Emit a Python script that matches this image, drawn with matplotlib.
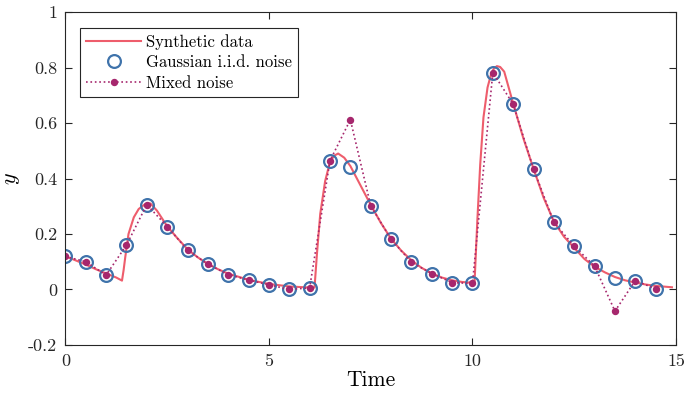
import numpy as np
import matplotlib
matplotlib.use('Agg')
import matplotlib.pyplot as plt

plt.rcParams['font.family'] = 'serif'
plt.rcParams['font.serif'] = ['cmr10']
plt.rcParams['mathtext.fontset'] = 'cm'
plt.rcParams['axes.unicode_minus'] = False

# synthetic curve
t_syn = [0, 0.25, 0.5, 0.75, 1.0, 1.25, 1.39, 1.43, 1.47, 1.55, 1.68, 1.8, 1.96, 2.09,
         2.25, 2.5, 2.75, 3.0, 3.25, 3.5, 3.75, 4.0, 4.5, 5.0, 5.5, 6.0, 6.12, 6.18, 6.26,
         6.38, 6.5, 6.6, 6.7, 6.85, 7.0, 7.25, 7.5, 7.75, 8.0, 8.25, 8.5, 8.75, 9.0, 9.25,
         9.5, 9.75, 10.0, 10.05, 10.12, 10.19, 10.27, 10.37, 10.45, 10.52, 10.6, 10.68,
         10.78, 11.0, 11.25, 11.5, 11.75, 12.0, 12.25, 12.5, 12.75, 13.0, 13.25, 13.5,
         13.75, 14.0, 14.25, 14.5, 14.9]
y_syn = [0.12, 0.105, 0.09, 0.073, 0.058, 0.043, 0.032, 0.07, 0.116, 0.2, 0.26, 0.29,
         0.308, 0.31, 0.284, 0.228, 0.185, 0.145, 0.116, 0.092, 0.073, 0.057, 0.035, 0.02,
         0.011, 0.007, 0.007, 0.13, 0.272, 0.39, 0.46, 0.482, 0.49, 0.475, 0.445, 0.375,
         0.305, 0.24, 0.183, 0.14, 0.105, 0.078, 0.058, 0.043, 0.033, 0.027, 0.024, 0.023,
         0.25, 0.45, 0.62, 0.728, 0.772, 0.795, 0.805, 0.802, 0.785, 0.67, 0.545, 0.435,
         0.33, 0.245, 0.19, 0.15, 0.11, 0.082, 0.062, 0.045, 0.033, 0.025, 0.018, 0.013,
         0.008]

# sampled observations
t_obs = [0, 0.5, 1, 1.5, 2, 2.5, 3, 3.5, 4, 4.5, 5, 5.5, 6, 6.5, 7, 7.5, 8, 8.5, 9, 9.5,
         10, 10.5, 11, 11.5, 12, 12.5, 13, 13.5, 14, 14.5]
y_gauss = [0.119, 0.10, 0.052, 0.16, 0.306, 0.227, 0.142, 0.091, 0.054, 0.034, 0.017, 0.0,
           0.006, 0.464, 0.442, 0.302, 0.181, 0.098, 0.0575, 0.025, 0.0216, 0.782, 0.668,
           0.434, 0.242, 0.156, 0.084, 0.041, 0.032, 0.0025]
y_mixed = [0.119, 0.10, 0.052, 0.16, 0.306, 0.227, 0.142, 0.091, 0.054, 0.034, 0.017, 0.0,
           0.006, 0.464, 0.612, 0.302, 0.181, 0.098, 0.0575, 0.025, 0.0216, 0.782, 0.668,
           0.434, 0.242, 0.156, 0.084, -0.078, 0.032, 0.0025]

fig = plt.figure(figsize=(6.87, 3.98), dpi=100)
ax = fig.add_axes([0.0952, 0.1332, 0.8888, 0.8366])

ax.plot(t_syn, y_syn, color='#ee5d6c', lw=1.5, label='Synthetic data')
ax.plot(t_obs, y_gauss, 'o', ms=9.2, mfc='none', mec='#3f73ab', mew=1.6,
        label='Gaussian i.i.d. noise')
ax.plot(t_obs, y_mixed, ':', marker='o', ms=4.3, color='#a6276d', lw=1.2,
        label='Mixed noise')

ax.set_xlim(0, 15)
ax.set_ylim(-0.2, 1)
ax.set_xticks([0, 5, 10, 15])
ax.set_xticklabels(['0', '5', '10', '15'])
yt = [-0.2, 0, 0.2, 0.4, 0.6, 0.8, 1]
ax.set_yticks(yt)
ax.set_yticklabels(['-0.2', '0', '0.2', '0.4', '0.6', '0.8', '1'])
ax.tick_params(direction='in', top=True, right=True, length=5, width=0.8,
               labelsize=13, colors='#262626', pad=6)
for sp in ax.spines.values():
    sp.set_linewidth(0.8)
    sp.set_color('#262626')

ax.set_xlabel('Time', fontsize=15.5, labelpad=1)
ax.set_ylabel('$y$', fontsize=16, labelpad=4)

leg = ax.legend(loc='upper left', bbox_to_anchor=(0.0245, 0.952), fontsize=12,
                fancybox=False, edgecolor='#262626', framealpha=1,
                handlelength=3.3, borderpad=0.35, labelspacing=0.32,
                handletextpad=0.3, borderaxespad=0)
leg.get_frame().set_linewidth(0.8)

fig.savefig('out.png', dpi=100)
